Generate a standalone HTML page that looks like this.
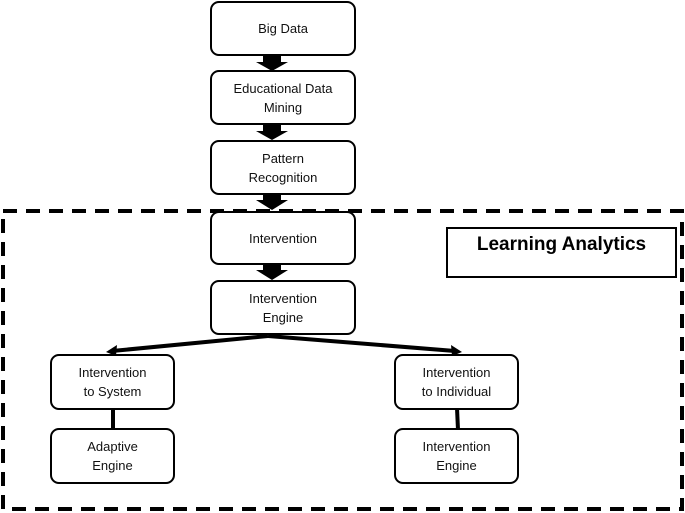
<!DOCTYPE html>
<html><head><style>
body{margin:0;width:685px;height:513px;background:#fff;position:relative;overflow:hidden;font-family:"Liberation Sans",sans-serif;}
.b{position:absolute;box-sizing:border-box;border:2px solid #000;border-radius:9px;background:#fff;display:flex;align-items:center;justify-content:center;text-align:center;font-size:13px;line-height:19px;color:#111;}
</style></head><body>
<svg width="685" height="513" style="position:absolute;left:0;top:0">
<rect x="3" y="211" width="679" height="298" fill="none" stroke="#000" stroke-width="4" stroke-dasharray="14,9"/>
<g fill="#000">
<polygon points="263,56 281,56 281,62 288,62 272,71 256,62 263,62"/>
<polygon points="263,125 281,125 281,131 288,131 272,140 256,131 263,131"/>
<polygon points="263,194 281,194 281,200 288,200 272,210 256,200 263,200"/>
<polygon points="263,264 281,264 281,270 288,270 272,280 256,270 263,270"/>
</g>
<g stroke="#000" stroke-width="4" fill="none">
<line x1="268" y1="336" x2="112" y2="351"/>
<line x1="268" y1="336" x2="455" y2="351"/>
<line x1="113" y1="408" x2="113" y2="430"/>
<line x1="457" y1="408" x2="458" y2="430"/>
</g>
<polygon points="106,352 117,345 116,356" fill="#000"/>
<polygon points="462,352 451,345 452,356" fill="#000"/>
</svg>
<div class="b" style="left:210px;top:1px;width:146px;height:55px">Big Data</div>
<div class="b" style="left:210px;top:70px;width:146px;height:55px">Educational Data<br>Mining</div>
<div class="b" style="left:210px;top:140px;width:146px;height:55px">Pattern<br>Recognition</div>
<div class="b" style="left:210px;top:211px;width:146px;height:54px">Intervention</div>
<div class="b" style="left:210px;top:280px;width:146px;height:55px">Intervention<br>Engine</div>
<div class="b" style="left:50px;top:354px;width:125px;height:56px">Intervention<br>to System</div>
<div class="b" style="left:50px;top:428px;width:125px;height:56px">Adaptive<br>Engine</div>
<div class="b" style="left:394px;top:354px;width:125px;height:56px">Intervention<br>to Individual</div>
<div class="b" style="left:394px;top:428px;width:125px;height:56px">Intervention<br>Engine</div>
<div style="position:absolute;left:446px;top:227px;width:231px;height:51px;box-sizing:border-box;border:2px solid #000;font-weight:bold;font-size:19px;text-align:center;padding-top:5px;">Learning Analytics</div>
</body></html>
